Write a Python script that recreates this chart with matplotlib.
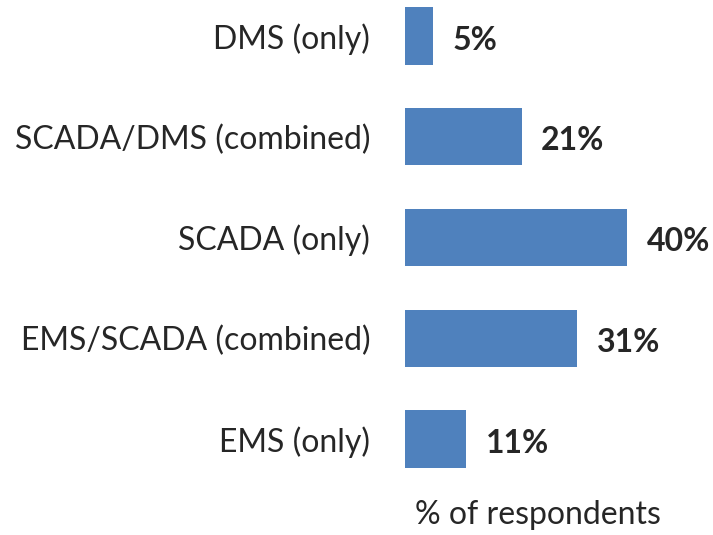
import matplotlib
matplotlib.use('Agg')
import matplotlib.pyplot as plt

plt.rcParams['font.family'] = ['Lato', 'DejaVu Sans']

# data, bottom to top
categories = ['EMS (only)', 'EMS/SCADA (combined)', 'SCADA (only)',
              'SCADA/DMS (combined)', 'DMS (only)']
values = [11, 31, 40, 21, 5]
value_labels = ['11%', '31%', '40%', '21%', '5%']

W, H = 713, 535
fig = plt.figure(figsize=(W / 100, H / 100), dpi=100)
fig.patch.set_facecolor('white')

# axes from bar origin to right edge, full height
ax = fig.add_axes([405 / W, 0, 308 / W, 1])
ax.barh(range(len(values)), values, height=0.57, color='#4F81BD')

ax.set_xlim(0, 40 * 308 / 222)
ax.set_ylim(-96 / 100.75, 4 + 36 / 100.75)

ax.set_yticks(range(len(categories)))
ax.set_yticklabels(categories, fontsize=23, color='#262626')
ax.tick_params(axis='y', length=0, pad=25)
ax.set_xticks([])
for s in ax.spines.values():
    s.set_visible(False)

# bold value labels, sitting a little below bar centre
for i, (v, lab) in enumerate(zip(values, value_labels)):
    ax.annotate(lab, (v, i), xytext=(14, -3), textcoords='offset points',
                va='center', ha='left', fontsize=23, fontweight='bold',
                color='#262626')

fig.text(415 / W, 1 - 515 / H, '% of respondents', fontsize=23,
         color='#262626', va='center', ha='left')

fig.savefig('out.png', dpi=100, facecolor='white')
